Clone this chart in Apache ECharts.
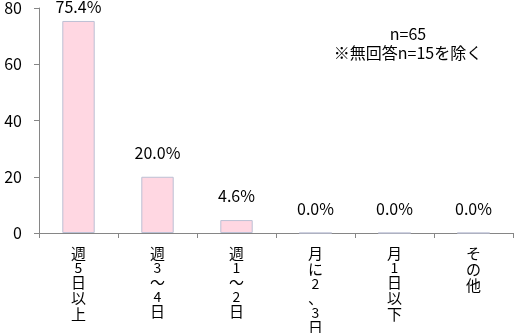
<!DOCTYPE html>
<html>
<head>
<meta charset="utf-8">
<script src="https://cdn.jsdelivr.net/npm/echarts@6/dist/echarts.min.js"></script>
<style>
html,body{margin:0;padding:0;background:#fff;}
#chart{width:514px;height:333px;}
</style>
</head>
<body>
<div id="chart"></div>
<script>
const categories = ['週5日以上', '週3～4日', '週1～2日', '月に2、3日', '月1日以下', 'その他'];
const values = [75.4, 20.0, 4.6, 0.0, 0.0, 0.0];
const yTicks = [0, 20, 40, 60, 80];
const noteLines = ['n=65', '※無回答n=15を除く'];

const FONT = '"Noto Sans CJK JP", "Noto Sans", sans-serif';
const chart = echarts.init(document.getElementById('chart'), null, {renderer: 'canvas'});

const data = values.map((v, i) => {
  const item = {value: v};
  if (i === 0) item.label = {distance: 6};
  return item;
});

// stack characters vertically; half-width characters take less vertical room
function verticalLabel(s) {
  return s.split('').map(ch => {
    const half = /[\x20-\x7e]/.test(ch);
    return '{' + (half ? 'h' : 'f') + '|' + ch + '}';
  }).join('\n');
}

chart.setOption({
  animation: false,
  grid: {left: 39, right: 1, top: 8, bottom: 100, containLabel: false, outerBoundsMode: 'none'},
  xAxis: {
    type: 'category',
    data: categories,
    axisLine: {lineStyle: {color: '#868686', width: 1}},
    axisTick: {show: true, length: 5, alignWithLabel: false, lineStyle: {color: '#868686'}},
    axisLabel: {
      interval: 0,
      margin: 12,
      color: '#000',
      fontFamily: FONT,
      fontSize: 15,
      verticalAlign: 'top',
      formatter: verticalLabel,
      rich: {
        f: {fontFamily: FONT, fontSize: 15, lineHeight: 16, color: '#000'},
        h: {fontFamily: FONT, fontSize: 14, lineHeight: 13, color: '#000'}
      }
    }
  },
  yAxis: {
    type: 'value',
    min: yTicks[0],
    max: yTicks[yTicks.length - 1],
    interval: yTicks[1] - yTicks[0],
    splitLine: {show: false},
    axisLine: {show: true, lineStyle: {color: '#868686', width: 1}},
    axisTick: {show: true, length: 5, lineStyle: {color: '#868686'}},
    axisLabel: {color: '#000', fontFamily: FONT, fontSize: 16, margin: 17}
  },
  series: [{
    type: 'bar',
    data: data,
    barWidth: '41%',
    itemStyle: {color: '#FFD7E2', borderColor: '#BCC0D4', borderWidth: 1},
    label: {
      show: true,
      position: 'top',
      distance: 16,
      color: '#000',
      fontFamily: FONT,
      fontSize: 16,
      formatter: p => p.value.toFixed(1) + '%'
    }
  }],
  graphic: [{
    type: 'text',
    x: 408,
    y: 24,
    style: {
      text: noteLines.join('\n'),
      fill: '#000',
      font: '16px ' + FONT,
      lineHeight: 19,
      align: 'center',
      verticalAlign: 'top'
    }
  }]
});
</script>
</body>
</html>
